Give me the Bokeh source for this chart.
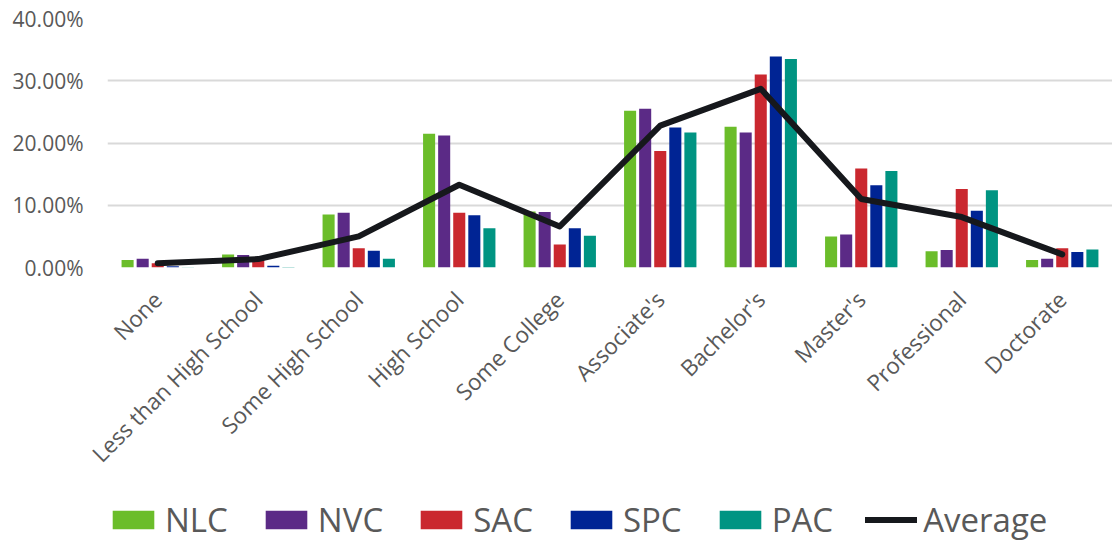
from math import pi
from bokeh.plotting import figure
from bokeh.layouts import column
from bokeh.models import (ColumnDataSource, FactorRange, FixedTicker, NumeralTickFormatter,
                          Legend, LegendItem, Range1d)
from bokeh.transform import dodge
from bokeh.embed import file_html
from bokeh.resources import INLINE

categories = ["None", "Less than High School", "Some High School", "High School", "Some College",
              "Associate's", "Bachelor's", "Master's", "Professional", "Doctorate"]
nlc = [1.2, 2.1, 8.5, 21.5, 9.0, 25.2, 22.6, 5.0, 2.6, 1.2]
nvc = [1.4, 2.0, 8.8, 21.2, 8.9, 25.5, 21.7, 5.3, 2.8, 1.4]
sac = [0.7, 1.2, 3.1, 8.8, 3.7, 18.7, 31.0, 15.9, 12.6, 3.1]
spc = [0.2, 0.3, 2.7, 8.4, 6.3, 22.5, 33.9, 13.2, 9.1, 2.5]
pac = [0.05, 0.1, 1.4, 6.3, 5.1, 21.7, 33.5, 15.5, 12.4, 2.9]
average = [0.7, 1.35, 5.0, 13.3, 6.6, 22.8, 28.7, 11.0, 8.1, 2.1]

series_names = ["NLC", "NVC", "SAC", "SPC", "PAC"]
series_values = [nlc, nvc, sac, spc, pac]
colors = ["#6BBD2A", "#5B2A86", "#CA282F", "#002494", "#009482"]
offsets = [-0.3, -0.15, 0.0, 0.15, 0.3]
LINE_COLOR = "#16181C"

data = {"cat": categories, "Average": [v / 100 for v in average]}
for n, vals in zip(series_names, series_values):
    data[n] = [v / 100 for v in vals]
src = ColumnDataSource(data)

FONT = "Open Sans"
GREY = "#595959"

W, H = 1112, 542
LEG_H = 60
MAIN_H = H - LEG_H
xr = FactorRange(*categories)

p = figure(x_range=xr, y_range=(0, 0.40),
           width=W, height=MAIN_H, output_backend="svg", toolbar_location=None,
           min_border_left=107, min_border_right=0, min_border_top=18,
           min_border_bottom=MAIN_H - 268)
p.outline_line_color = None
p.background_fill_color = "white"
p.border_fill_color = "white"

for n, c, off in zip(series_names, colors, offsets):
    p.vbar(x=dodge("cat", off, range=xr), top=n, width=0.12, source=src,
           fill_color=c, line_color=None)

p.line(x="cat", y="Average", source=src, line_color=LINE_COLOR, line_width=6,
       line_join="round", line_cap="round")

# axes
p.yaxis.ticker = FixedTicker(ticks=[0, 0.1, 0.2, 0.3, 0.4])
p.yaxis.formatter = NumeralTickFormatter(format="0.00%")
for ax in (p.xaxis[0], p.yaxis[0]):
    ax.axis_line_color = None
    ax.major_tick_line_color = None
    ax.minor_tick_line_color = None
    ax.major_tick_out = 0
    ax.major_tick_in = 0
    ax.minor_tick_out = 0
    ax.minor_tick_in = 0
    ax.major_label_text_color = GREY
    ax.major_label_text_font = FONT
p.yaxis.major_label_text_font_size = "21px"
p.yaxis.major_label_standoff = 24
p.xaxis.major_label_text_font_size = "22.5px"
p.xaxis.major_label_orientation = pi / 4
p.xaxis.major_label_standoff = 28

p.xgrid.grid_line_color = None
p.ygrid.grid_line_color = "#D9D9D9"
p.ygrid.grid_line_width = 2

# legend strip: same series drawn in a band whose y-range shows none of them
lg = figure(width=W, height=LEG_H, x_range=xr, y_range=Range1d(10, 11),
            output_backend="svg", toolbar_location=None,
            x_axis_location=None, y_axis_location=None,
            min_border_left=0, min_border_right=0, min_border_top=0, min_border_bottom=0)
lg.outline_line_color = None
lg.xgrid.grid_line_color = None
lg.ygrid.grid_line_color = None
items = []
for n, c, off in zip(series_names, colors, offsets):
    r = lg.vbar(x=dodge("cat", off, range=xr), top=n, width=0.12, source=src,
                fill_color=c, line_color=None)
    items.append(LegendItem(label=n, renderers=[r]))
rl = lg.line(x="cat", y="Average", source=src, line_color=LINE_COLOR, line_width=6,
             line_cap="round")
items.append(LegendItem(label="Average", renderers=[rl]))
legend = Legend(items=items, orientation="horizontal", location=(0, 0),
                glyph_width=52, glyph_height=23, label_standoff=6, spacing=32,
                padding=0, margin=0, border_line_color=None, background_fill_alpha=0,
                label_text_font=FONT, label_text_font_size="33px", label_text_color=GREY)
lg.add_layout(legend, "center")

layout = column(p, lg, spacing=0)
open("out.html", "w").write(file_html(layout, INLINE))
